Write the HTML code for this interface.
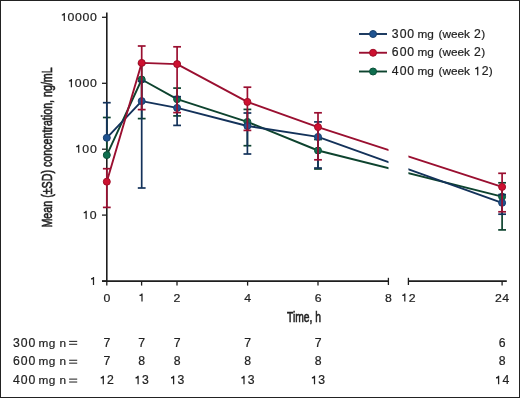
<!DOCTYPE html>
<html><head><meta charset="utf-8"><style>
html,body{margin:0;padding:0;background:#fff;}
#w{position:relative;width:518px;height:396px;border:1px solid #222;overflow:hidden;background:#fff}
svg{position:absolute;left:-1px;top:-1px;will-change:transform}
.t{font-family:"Liberation Sans",sans-serif;font-size:11.5px;fill:#222;stroke:#222;stroke-width:0.2px}
.c{font-family:"Liberation Sans",sans-serif;font-size:14.0px;fill:#222;stroke:#222;stroke-width:0.6px}
</style></head><body><div id="w"><svg width="520" height="398" viewBox="0 0 520 398">
<line x1="106.8" y1="12.5" x2="106.8" y2="281.9" stroke="#1e1e1e" stroke-width="1.6"/>
<line x1="102" y1="17.3" x2="106.8" y2="17.3" stroke="#1e1e1e" stroke-width="1.3"/>
<line x1="102" y1="83.3" x2="106.8" y2="83.3" stroke="#1e1e1e" stroke-width="1.3"/>
<line x1="102" y1="149.2" x2="106.8" y2="149.2" stroke="#1e1e1e" stroke-width="1.3"/>
<line x1="102" y1="215.1" x2="106.8" y2="215.1" stroke="#1e1e1e" stroke-width="1.3"/>
<line x1="102" y1="281.1" x2="106.8" y2="281.1" stroke="#1e1e1e" stroke-width="1.3"/>
<line x1="102" y1="281.1" x2="388.4" y2="281.1" stroke="#1e1e1e" stroke-width="1.6"/>
<line x1="408.4" y1="281.1" x2="506.8" y2="281.1" stroke="#1e1e1e" stroke-width="1.6"/>
<line x1="106.8" y1="281" x2="106.8" y2="285.6" stroke="#1e1e1e" stroke-width="1.3"/>
<line x1="141.6" y1="281" x2="141.6" y2="285.6" stroke="#1e1e1e" stroke-width="1.3"/>
<line x1="177.0" y1="281" x2="177.0" y2="285.6" stroke="#1e1e1e" stroke-width="1.3"/>
<line x1="247.6" y1="281" x2="247.6" y2="285.6" stroke="#1e1e1e" stroke-width="1.3"/>
<line x1="318.0" y1="281" x2="318.0" y2="285.6" stroke="#1e1e1e" stroke-width="1.3"/>
<line x1="502.1" y1="281" x2="502.1" y2="285.6" stroke="#1e1e1e" stroke-width="1.3"/>
<line x1="388.4" y1="277.8" x2="388.4" y2="285" stroke="#1e1e1e" stroke-width="1.3"/>
<line x1="408.4" y1="277.8" x2="408.4" y2="285" stroke="#1e1e1e" stroke-width="1.3"/>
<path d="M106.8,155.1 L141.7,79.5 L177.1,99.2 L247.4,121.9 L318.0,150.5 L502.1,196.7" fill="none" stroke="#0d432e" stroke-width="1.9" stroke-linejoin="round"/>
<line x1="106.8" y1="117.5" x2="106.8" y2="155.1" stroke="#0d432e" stroke-width="1.7"/>
<line x1="102.89999999999999" y1="117.5" x2="110.7" y2="117.5" stroke="#0d432e" stroke-width="1.7"/>
<line x1="141.7" y1="63.6" x2="141.7" y2="118.6" stroke="#0d432e" stroke-width="1.7"/>
<line x1="137.79999999999998" y1="63.6" x2="145.6" y2="63.6" stroke="#0d432e" stroke-width="1.7"/>
<line x1="137.79999999999998" y1="118.6" x2="145.6" y2="118.6" stroke="#0d432e" stroke-width="1.7"/>
<line x1="177.1" y1="88.1" x2="177.1" y2="115.9" stroke="#0d432e" stroke-width="1.7"/>
<line x1="173.2" y1="88.1" x2="181.0" y2="88.1" stroke="#0d432e" stroke-width="1.7"/>
<line x1="173.2" y1="115.9" x2="181.0" y2="115.9" stroke="#0d432e" stroke-width="1.7"/>
<line x1="247.4" y1="109.4" x2="247.4" y2="145.7" stroke="#0d432e" stroke-width="1.7"/>
<line x1="243.5" y1="109.4" x2="251.3" y2="109.4" stroke="#0d432e" stroke-width="1.7"/>
<line x1="243.5" y1="145.7" x2="251.3" y2="145.7" stroke="#0d432e" stroke-width="1.7"/>
<line x1="318.0" y1="139.5" x2="318.0" y2="169.0" stroke="#0d432e" stroke-width="1.7"/>
<line x1="314.1" y1="139.5" x2="321.9" y2="139.5" stroke="#0d432e" stroke-width="1.7"/>
<line x1="314.1" y1="169.0" x2="321.9" y2="169.0" stroke="#0d432e" stroke-width="1.7"/>
<line x1="502.1" y1="182.8" x2="502.1" y2="229.9" stroke="#0d432e" stroke-width="1.7"/>
<line x1="498.20000000000005" y1="182.8" x2="506.0" y2="182.8" stroke="#0d432e" stroke-width="1.7"/>
<line x1="498.20000000000005" y1="229.9" x2="506.0" y2="229.9" stroke="#0d432e" stroke-width="1.7"/>
<circle cx="106.8" cy="155.1" r="3.5" fill="#0f6e4f" stroke="#0b5139" stroke-width="1.0"/>
<circle cx="141.7" cy="79.5" r="3.5" fill="#0f6e4f" stroke="#0b5139" stroke-width="1.0"/>
<circle cx="177.1" cy="99.2" r="3.5" fill="#0f6e4f" stroke="#0b5139" stroke-width="1.0"/>
<circle cx="247.4" cy="121.9" r="3.5" fill="#0f6e4f" stroke="#0b5139" stroke-width="1.0"/>
<circle cx="318.0" cy="150.5" r="3.5" fill="#0f6e4f" stroke="#0b5139" stroke-width="1.0"/>
<circle cx="502.1" cy="196.7" r="3.5" fill="#0f6e4f" stroke="#0b5139" stroke-width="1.0"/>
<path d="M106.8,137.8 L141.7,101.1 L177.1,107.9 L247.4,126.0 L318.0,136.9 L502.1,202.8" fill="none" stroke="#13325a" stroke-width="1.9" stroke-linejoin="round"/>
<line x1="106.8" y1="102.7" x2="106.8" y2="137.8" stroke="#13325a" stroke-width="1.7"/>
<line x1="102.89999999999999" y1="102.7" x2="110.7" y2="102.7" stroke="#13325a" stroke-width="1.7"/>
<line x1="141.7" y1="81.4" x2="141.7" y2="188.0" stroke="#13325a" stroke-width="1.7"/>
<line x1="137.79999999999998" y1="81.4" x2="145.6" y2="81.4" stroke="#13325a" stroke-width="1.7"/>
<line x1="137.79999999999998" y1="188.0" x2="145.6" y2="188.0" stroke="#13325a" stroke-width="1.7"/>
<line x1="177.1" y1="96.7" x2="177.1" y2="125.4" stroke="#13325a" stroke-width="1.7"/>
<line x1="173.2" y1="96.7" x2="181.0" y2="96.7" stroke="#13325a" stroke-width="1.7"/>
<line x1="173.2" y1="125.4" x2="181.0" y2="125.4" stroke="#13325a" stroke-width="1.7"/>
<line x1="247.4" y1="113.0" x2="247.4" y2="154.0" stroke="#13325a" stroke-width="1.7"/>
<line x1="243.5" y1="113.0" x2="251.3" y2="113.0" stroke="#13325a" stroke-width="1.7"/>
<line x1="243.5" y1="154.0" x2="251.3" y2="154.0" stroke="#13325a" stroke-width="1.7"/>
<line x1="318.0" y1="121.9" x2="318.0" y2="168.0" stroke="#13325a" stroke-width="1.7"/>
<line x1="314.1" y1="121.9" x2="321.9" y2="121.9" stroke="#13325a" stroke-width="1.7"/>
<line x1="314.1" y1="168.0" x2="321.9" y2="168.0" stroke="#13325a" stroke-width="1.7"/>
<line x1="502.1" y1="194.6" x2="502.1" y2="214.2" stroke="#13325a" stroke-width="1.7"/>
<line x1="498.20000000000005" y1="194.6" x2="506.0" y2="194.6" stroke="#13325a" stroke-width="1.7"/>
<line x1="498.20000000000005" y1="214.2" x2="506.0" y2="214.2" stroke="#13325a" stroke-width="1.7"/>
<circle cx="106.8" cy="137.8" r="3.5" fill="#1f5391" stroke="#173f6c" stroke-width="1.0"/>
<circle cx="141.7" cy="101.1" r="3.5" fill="#1f5391" stroke="#173f6c" stroke-width="1.0"/>
<circle cx="177.1" cy="107.9" r="3.5" fill="#1f5391" stroke="#173f6c" stroke-width="1.0"/>
<circle cx="247.4" cy="126.0" r="3.5" fill="#1f5391" stroke="#173f6c" stroke-width="1.0"/>
<circle cx="318.0" cy="136.9" r="3.5" fill="#1f5391" stroke="#173f6c" stroke-width="1.0"/>
<circle cx="502.1" cy="202.8" r="3.5" fill="#1f5391" stroke="#173f6c" stroke-width="1.0"/>
<path d="M106.8,181.7 L141.7,62.9 L177.1,64.1 L247.4,101.9 L318.0,127.1 L502.1,186.9" fill="none" stroke="#9a0f30" stroke-width="1.9" stroke-linejoin="round"/>
<line x1="106.8" y1="168.7" x2="106.8" y2="207.4" stroke="#9a0f30" stroke-width="1.7"/>
<line x1="102.89999999999999" y1="168.7" x2="110.7" y2="168.7" stroke="#9a0f30" stroke-width="1.7"/>
<line x1="102.89999999999999" y1="207.4" x2="110.7" y2="207.4" stroke="#9a0f30" stroke-width="1.7"/>
<line x1="141.7" y1="46.0" x2="141.7" y2="109.6" stroke="#9a0f30" stroke-width="1.7"/>
<line x1="137.79999999999998" y1="46.0" x2="145.6" y2="46.0" stroke="#9a0f30" stroke-width="1.7"/>
<line x1="137.79999999999998" y1="109.6" x2="145.6" y2="109.6" stroke="#9a0f30" stroke-width="1.7"/>
<line x1="177.1" y1="46.8" x2="177.1" y2="112.6" stroke="#9a0f30" stroke-width="1.7"/>
<line x1="173.2" y1="46.8" x2="181.0" y2="46.8" stroke="#9a0f30" stroke-width="1.7"/>
<line x1="173.2" y1="112.6" x2="181.0" y2="112.6" stroke="#9a0f30" stroke-width="1.7"/>
<line x1="247.4" y1="87.2" x2="247.4" y2="130.4" stroke="#9a0f30" stroke-width="1.7"/>
<line x1="243.5" y1="87.2" x2="251.3" y2="87.2" stroke="#9a0f30" stroke-width="1.7"/>
<line x1="243.5" y1="130.4" x2="251.3" y2="130.4" stroke="#9a0f30" stroke-width="1.7"/>
<line x1="318.0" y1="112.8" x2="318.0" y2="159.8" stroke="#9a0f30" stroke-width="1.7"/>
<line x1="314.1" y1="112.8" x2="321.9" y2="112.8" stroke="#9a0f30" stroke-width="1.7"/>
<line x1="314.1" y1="159.8" x2="321.9" y2="159.8" stroke="#9a0f30" stroke-width="1.7"/>
<line x1="502.1" y1="173.3" x2="502.1" y2="211.8" stroke="#9a0f30" stroke-width="1.7"/>
<line x1="498.20000000000005" y1="173.3" x2="506.0" y2="173.3" stroke="#9a0f30" stroke-width="1.7"/>
<line x1="498.20000000000005" y1="211.8" x2="506.0" y2="211.8" stroke="#9a0f30" stroke-width="1.7"/>
<circle cx="106.8" cy="181.7" r="3.5" fill="#cd1130" stroke="#a00d27" stroke-width="1.0"/>
<circle cx="141.7" cy="62.9" r="3.5" fill="#cd1130" stroke="#a00d27" stroke-width="1.0"/>
<circle cx="177.1" cy="64.1" r="3.5" fill="#cd1130" stroke="#a00d27" stroke-width="1.0"/>
<circle cx="247.4" cy="101.9" r="3.5" fill="#cd1130" stroke="#a00d27" stroke-width="1.0"/>
<circle cx="318.0" cy="127.1" r="3.5" fill="#cd1130" stroke="#a00d27" stroke-width="1.0"/>
<circle cx="502.1" cy="186.9" r="3.5" fill="#cd1130" stroke="#a00d27" stroke-width="1.0"/>
<rect x="388.5" y="140" width="19.9" height="40" fill="#fff"/>
<line x1="359.0" y1="34.0" x2="387" y2="34.0" stroke="#13325a" stroke-width="1.9"/>
<circle cx="373.05" cy="34.0" r="3.5" fill="#1f5391" stroke="#173f6c" stroke-width="1.0"/>
<line x1="359.0" y1="52.75" x2="387" y2="52.75" stroke="#9a0f30" stroke-width="1.9"/>
<circle cx="373.05" cy="52.75" r="3.5" fill="#cd1130" stroke="#a00d27" stroke-width="1.0"/>
<line x1="359.0" y1="71.5" x2="387" y2="71.5" stroke="#0d432e" stroke-width="1.9"/>
<circle cx="373.05" cy="71.5" r="3.5" fill="#0f6e4f" stroke="#0b5139" stroke-width="1.0"/>
<text x="417.40" y="37.65" class="t" style="font-size:11.8px;letter-spacing:-0.03px">mg</text>
<text x="438.50" y="37.65" class="t" style="font-size:11.8px;letter-spacing:-0.02px">(week</text>
<text x="481.30" y="37.65" class="t" style="font-size:11.8px;">)</text>
<text x="417.40" y="56.40" class="t" style="font-size:11.8px;letter-spacing:-0.03px">mg</text>
<text x="438.50" y="56.40" class="t" style="font-size:11.8px;letter-spacing:-0.02px">(week</text>
<text x="481.30" y="56.40" class="t" style="font-size:11.8px;">)</text>
<text x="417.40" y="75.15" class="t" style="font-size:11.8px;letter-spacing:-0.03px">mg</text>
<text x="438.50" y="75.15" class="t" style="font-size:11.8px;letter-spacing:-0.02px">(week</text>
<text x="488.80" y="75.15" class="t" style="font-size:11.8px;">)</text>
<text x="38.50" y="346.60" class="t" style="font-size:11.8px;letter-spacing:0.37px">mg</text>
<text x="59.50" y="346.60" class="t" style="font-size:11.8px;">n</text>
<text x="38.50" y="365.45" class="t" style="font-size:11.8px;letter-spacing:0.37px">mg</text>
<text x="59.50" y="365.45" class="t" style="font-size:11.8px;">n</text>
<text x="38.50" y="384.30" class="t" style="font-size:11.8px;letter-spacing:0.37px">mg</text>
<text x="59.50" y="384.30" class="t" style="font-size:11.8px;">n</text>
<path d="M64.92,13.00 L64.92,21.10 L63.68,21.10 L63.68,15.30 Q63.00,15.50 61.80,15.50 L61.80,14.40 Q63.30,14.30 63.90,13.00 Z" fill="#222"/>
<text transform="translate(70.95,21.10) scale(1.07,1)" class="t" text-anchor="middle">0</text>
<text transform="translate(78.45,21.10) scale(1.07,1)" class="t" text-anchor="middle">0</text>
<text transform="translate(85.90,21.10) scale(1.07,1)" class="t" text-anchor="middle">0</text>
<text transform="translate(93.40,21.10) scale(1.07,1)" class="t" text-anchor="middle">0</text>
<path d="M72.02,79.10 L72.02,87.20 L70.78,87.20 L70.78,81.40 Q70.10,81.60 68.90,81.60 L68.90,80.50 Q70.40,80.40 71.00,79.10 Z" fill="#222"/>
<text transform="translate(78.15,87.20) scale(1.07,1)" class="t" text-anchor="middle">0</text>
<text transform="translate(85.85,87.20) scale(1.07,1)" class="t" text-anchor="middle">0</text>
<text transform="translate(93.40,87.20) scale(1.07,1)" class="t" text-anchor="middle">0</text>
<path d="M79.32,144.70 L79.32,152.80 L78.08,152.80 L78.08,147.00 Q77.40,147.20 76.20,147.20 L76.20,146.10 Q77.70,146.00 78.30,144.70 Z" fill="#222"/>
<text transform="translate(85.70,152.80) scale(1.07,1)" class="t" text-anchor="middle">0</text>
<text transform="translate(93.40,152.80) scale(1.07,1)" class="t" text-anchor="middle">0</text>
<path d="M86.77,210.80 L86.77,218.90 L85.53,218.90 L85.53,213.10 Q84.85,213.30 83.65,213.30 L83.65,212.20 Q85.15,212.10 85.75,210.80 Z" fill="#222"/>
<text transform="translate(93.25,218.90) scale(1.07,1)" class="t" text-anchor="middle">0</text>
<path d="M94.12,276.90 L94.12,285.00 L92.88,285.00 L92.88,279.20 Q92.20,279.40 91.00,279.40 L91.00,278.30 Q92.50,278.20 93.10,276.90 Z" fill="#222"/>
<text transform="translate(106.90,301.50) scale(1.07,1)" class="t" text-anchor="middle">0</text>
<path d="M142.62,293.40 L142.62,301.50 L141.38,301.50 L141.38,295.70 Q140.70,295.90 139.50,295.90 L139.50,294.80 Q141.00,294.70 141.60,293.40 Z" fill="#222"/>
<text transform="translate(176.90,301.50) scale(1.07,1)" class="t" text-anchor="middle">2</text>
<text transform="translate(247.60,301.50) scale(1.07,1)" class="t" text-anchor="middle">4</text>
<text transform="translate(318.10,301.50) scale(1.07,1)" class="t" text-anchor="middle">6</text>
<text transform="translate(388.50,301.50) scale(1.07,1)" class="t" text-anchor="middle">8</text>
<path d="M405.42,293.40 L405.42,301.50 L404.18,301.50 L404.18,295.70 Q403.50,295.90 402.30,295.90 L402.30,294.80 Q403.80,294.70 404.40,293.40 Z" fill="#222"/>
<text transform="translate(412.20,301.50) scale(1.07,1)" class="t" text-anchor="middle">2</text>
<text transform="translate(498.30,301.50) scale(1.07,1)" class="t" text-anchor="middle">2</text>
<text transform="translate(505.60,301.50) scale(1.07,1)" class="t" text-anchor="middle">4</text>
<text transform="translate(395.25,37.65) scale(1.02,1)" class="t" style="font-size:12.0px" text-anchor="middle">3</text>
<text transform="translate(403.10,37.65) scale(1.02,1)" class="t" style="font-size:12.0px" text-anchor="middle">0</text>
<text transform="translate(410.60,37.65) scale(1.02,1)" class="t" style="font-size:12.0px" text-anchor="middle">0</text>
<text transform="translate(477.30,37.65) scale(1.02,1)" class="t" style="font-size:12.0px" text-anchor="middle">2</text>
<text transform="translate(395.25,56.40) scale(1.02,1)" class="t" style="font-size:12.0px" text-anchor="middle">6</text>
<text transform="translate(403.10,56.40) scale(1.02,1)" class="t" style="font-size:12.0px" text-anchor="middle">0</text>
<text transform="translate(410.60,56.40) scale(1.02,1)" class="t" style="font-size:12.0px" text-anchor="middle">0</text>
<text transform="translate(477.30,56.40) scale(1.02,1)" class="t" style="font-size:12.0px" text-anchor="middle">2</text>
<text transform="translate(395.25,75.15) scale(1.02,1)" class="t" style="font-size:12.0px" text-anchor="middle">4</text>
<text transform="translate(403.10,75.15) scale(1.02,1)" class="t" style="font-size:12.0px" text-anchor="middle">0</text>
<text transform="translate(410.60,75.15) scale(1.02,1)" class="t" style="font-size:12.0px" text-anchor="middle">0</text>
<path d="M478.32,66.69 L478.32,75.15 L477.08,75.15 L477.08,69.09 Q476.34,69.30 475.09,69.30 L475.09,68.15 Q476.66,68.05 477.30,66.69 Z" fill="#222"/>
<text transform="translate(485.05,75.15) scale(1.02,1)" class="t" style="font-size:12.0px" text-anchor="middle">2</text>
<text transform="translate(16.50,346.60) scale(1.02,1)" class="t" style="font-size:12.0px" text-anchor="middle">3</text>
<text transform="translate(24.25,346.60) scale(1.02,1)" class="t" style="font-size:12.0px" text-anchor="middle">0</text>
<text transform="translate(32.00,346.60) scale(1.02,1)" class="t" style="font-size:12.0px" text-anchor="middle">0</text>
<text transform="translate(106.90,346.60) scale(1.02,1)" class="t" style="font-size:12.0px" text-anchor="middle">7</text>
<text transform="translate(141.70,346.60) scale(1.02,1)" class="t" style="font-size:12.0px" text-anchor="middle">7</text>
<text transform="translate(177.20,346.60) scale(1.02,1)" class="t" style="font-size:12.0px" text-anchor="middle">7</text>
<text transform="translate(247.60,346.60) scale(1.02,1)" class="t" style="font-size:12.0px" text-anchor="middle">7</text>
<text transform="translate(318.10,346.60) scale(1.02,1)" class="t" style="font-size:12.0px" text-anchor="middle">7</text>
<text transform="translate(502.20,346.60) scale(1.02,1)" class="t" style="font-size:12.0px" text-anchor="middle">6</text>
<text transform="translate(16.50,365.45) scale(1.02,1)" class="t" style="font-size:12.0px" text-anchor="middle">6</text>
<text transform="translate(24.25,365.45) scale(1.02,1)" class="t" style="font-size:12.0px" text-anchor="middle">0</text>
<text transform="translate(32.00,365.45) scale(1.02,1)" class="t" style="font-size:12.0px" text-anchor="middle">0</text>
<text transform="translate(106.90,365.45) scale(1.02,1)" class="t" style="font-size:12.0px" text-anchor="middle">7</text>
<text transform="translate(141.70,365.45) scale(1.02,1)" class="t" style="font-size:12.0px" text-anchor="middle">8</text>
<text transform="translate(177.20,365.45) scale(1.02,1)" class="t" style="font-size:12.0px" text-anchor="middle">8</text>
<text transform="translate(247.60,365.45) scale(1.02,1)" class="t" style="font-size:12.0px" text-anchor="middle">8</text>
<text transform="translate(318.10,365.45) scale(1.02,1)" class="t" style="font-size:12.0px" text-anchor="middle">8</text>
<text transform="translate(502.20,365.45) scale(1.02,1)" class="t" style="font-size:12.0px" text-anchor="middle">8</text>
<text transform="translate(16.50,384.30) scale(1.02,1)" class="t" style="font-size:12.0px" text-anchor="middle">4</text>
<text transform="translate(24.25,384.30) scale(1.02,1)" class="t" style="font-size:12.0px" text-anchor="middle">0</text>
<text transform="translate(32.00,384.30) scale(1.02,1)" class="t" style="font-size:12.0px" text-anchor="middle">0</text>
<path d="M103.92,375.84 L103.92,384.30 L102.68,384.30 L102.68,378.24 Q101.94,378.45 100.69,378.45 L100.69,377.30 Q102.26,377.20 102.90,375.84 Z" fill="#222"/>
<text transform="translate(110.50,384.30) scale(1.02,1)" class="t" style="font-size:12.0px" text-anchor="middle">2</text>
<path d="M138.72,375.84 L138.72,384.30 L137.48,384.30 L137.48,378.24 Q136.74,378.45 135.49,378.45 L135.49,377.30 Q137.06,377.20 137.70,375.84 Z" fill="#222"/>
<text transform="translate(145.30,384.30) scale(1.02,1)" class="t" style="font-size:12.0px" text-anchor="middle">3</text>
<path d="M174.22,375.84 L174.22,384.30 L172.98,384.30 L172.98,378.24 Q172.24,378.45 170.99,378.45 L170.99,377.30 Q172.56,377.20 173.20,375.84 Z" fill="#222"/>
<text transform="translate(180.80,384.30) scale(1.02,1)" class="t" style="font-size:12.0px" text-anchor="middle">3</text>
<path d="M244.62,375.84 L244.62,384.30 L243.38,384.30 L243.38,378.24 Q242.64,378.45 241.39,378.45 L241.39,377.30 Q242.96,377.20 243.60,375.84 Z" fill="#222"/>
<text transform="translate(251.20,384.30) scale(1.02,1)" class="t" style="font-size:12.0px" text-anchor="middle">3</text>
<path d="M315.12,375.84 L315.12,384.30 L313.88,384.30 L313.88,378.24 Q313.14,378.45 311.89,378.45 L311.89,377.30 Q313.46,377.20 314.10,375.84 Z" fill="#222"/>
<text transform="translate(321.70,384.30) scale(1.02,1)" class="t" style="font-size:12.0px" text-anchor="middle">3</text>
<path d="M499.22,375.84 L499.22,384.30 L497.98,384.30 L497.98,378.24 Q497.24,378.45 495.99,378.45 L495.99,377.30 Q497.56,377.20 498.20,375.84 Z" fill="#222"/>
<text transform="translate(505.80,384.30) scale(1.02,1)" class="t" style="font-size:12.0px" text-anchor="middle">4</text>
<rect x="69.1" y="340.85" width="8.1" height="1.15" fill="#3a3a3a"/>
<rect x="69.1" y="343.75" width="8.1" height="1.15" fill="#3a3a3a"/>
<rect x="69.1" y="359.70" width="8.1" height="1.15" fill="#3a3a3a"/>
<rect x="69.1" y="362.60" width="8.1" height="1.15" fill="#3a3a3a"/>
<rect x="69.1" y="378.55" width="8.1" height="1.15" fill="#3a3a3a"/>
<rect x="69.1" y="381.45" width="8.1" height="1.15" fill="#3a3a3a"/>
<text x="286.98" y="321.90" class="c" textLength="33.97" lengthAdjust="spacingAndGlyphs">Time, h</text>
<g transform="translate(51.6,226.7) rotate(-90)"><text x="-0.84" y="0" class="c" textLength="160.23" lengthAdjust="spacingAndGlyphs">Mean (±SD) concentration, ng/mL</text></g>
</svg></div></body></html>
